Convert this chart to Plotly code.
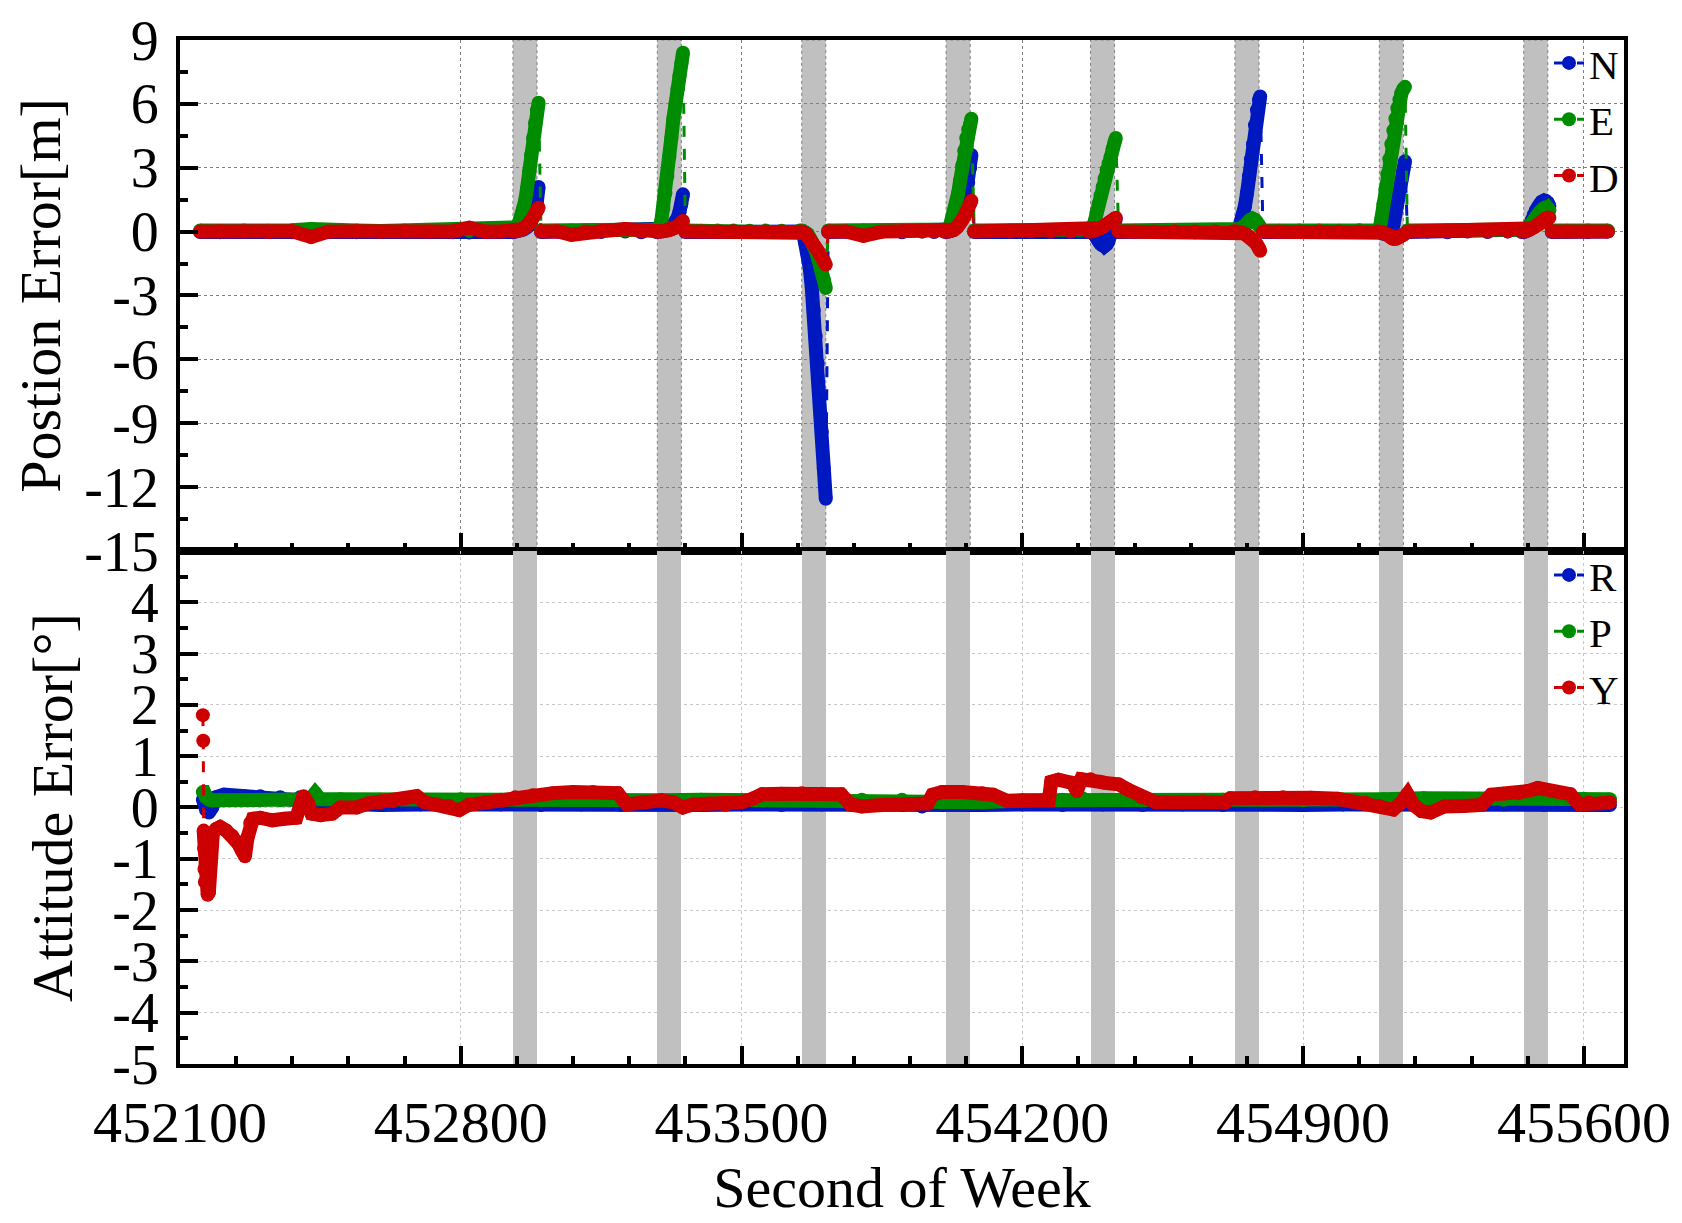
import plotly.graph_objects as go

FONT = "Liberation Serif"
BLUE, GREEN, RED = "#0018BF", "#008C00", "#CC0000"
BAND_GRAY = "#C0C0C0"

# ---------------- axes / outages ----------------
x_range = [452100, 455700]
x_tick0, x_dtick, x_minor = 452100, 700, 140
outage_start = [452930, 453290, 453650, 454010, 454370, 454730, 455090, 455450]
outage_len = 60

top_range = [-15, 9]
top_ticks = [-15, -12, -9, -6, -3, 0, 3, 6, 9]
top_minor = 1.5
bot_range = [-5, 5]
bot_ticks = [-5, -4, -3, -2, -1, 0, 1, 2, 3, 4]
bot_minor = 0.5

# ---------------- position error (N, E, D) ----------------
top_t = [
    452150, 452200, 452260, 452320, 452380, 452427, 452470, 452540, 452600, 452660, 452720, 452780, 452821, 452860, 452900,
    452930, 452935, 452940, 452945, 452950, 452955, 452960, 452965, 452970, 452975, 452980, 452985, 452990, 452994, 452997,
    453000, 453040, 453076, 453110, 453150, 453210, 453250, 453285,
    453290, 453295, 453300, 453305, 453310, 453315, 453320, 453325, 453330, 453335, 453340, 453345, 453350, 453354, 453357,
    453360, 453400, 453440, 453480, 453520, 453560, 453600, 453645,
    453650, 453655, 453660, 453665, 453670, 453675, 453680, 453685, 453690, 453695, 453700, 453705, 453710, 453713,
    453716, 453760, 453804, 453850, 453900, 453950, 453980, 454005,
    454010, 454015, 454020, 454025, 454030, 454035, 454040, 454045, 454050, 454055, 454060, 454065, 454070, 454073, 454076,
    454080, 454120, 454170, 454220, 454270, 454320, 454365,
    454370, 454375, 454380, 454385, 454390, 454395, 454400, 454405, 454410, 454415, 454420, 454425, 454430, 454433, 454436,
    454440, 454480, 454530, 454580, 454630, 454680, 454725,
    454730, 454735, 454740, 454745, 454750, 454755, 454760, 454765, 454770, 454775, 454780, 454785, 454790, 454793, 454796,
    454800, 454840, 454890, 454940, 454990, 455040, 455085,
    455090, 455095, 455100, 455105, 455110, 455115, 455120, 455125, 455130, 455135, 455140, 455145, 455150, 455154, 455157,
    455160, 455210, 455260, 455310, 455360, 455410, 455445,
    455450, 455455, 455460, 455465, 455470, 455475, 455480, 455485, 455490, 455495, 455500, 455505, 455510, 455514, 455516,
    455520, 455560, 455610, 455660,
]
top_N = [
    -0.02, -0.03, -0.02, 0.0, -0.03, -0.02, 0.0, -0.03, 0.0, -0.02, 0.0, -0.03, -0.04, 0.0, -0.02,
    -0.02, 0.0, 0.02, 0.04, 0.06, 0.09, 0.13, 0.2, 0.3, 0.45, 0.68, 1.0, 1.45, 2.1, None,
    -0.02, 0.0, -0.03, 0.0, -0.02, 0.0, -0.03, 0.0,
    -0.02, 0.0, 0.02, 0.04, 0.06, 0.1, 0.15, 0.22, 0.32, 0.45, 0.62, 0.9, 1.3, 1.75, None,
    -0.02, 0.0, -0.02, 0.0, -0.02, 0.0, -0.02, 0.0,
    0.0, -0.2, -0.6, -1.1, -1.7, -2.6, -3.7, -4.9, -6.2, -7.7, -9.4, -11.1, -12.55, None,
    -0.02, 0.0, -0.02, 0.0, -0.03, 0.0, -0.02, 0.0,
    -0.02, 0.0, 0.02, 0.05, 0.1, 0.18, 0.3, 0.5, 0.8, 1.2, 1.7, 2.3, 3.0, 3.6, None,
    -0.02, 0.0, -0.02, 0.0, -0.02, 0.0, -0.02,
    -0.02, -0.05, -0.15, -0.3, -0.45, -0.58, -0.65, -0.68, -0.6, -0.45, -0.2, 0.1, 0.4, 0.6, None,
    -0.02, 0.0, -0.02, 0.0, -0.03, 0.0, -0.02,
    -0.02, 0.05, 0.15, 0.4, 0.75, 1.2, 1.8, 2.6, 3.4, 4.1, 5.0, 5.7, 6.2, 6.35, None,
    -0.02, 0.0, -0.02, 0.0, -0.02, 0.0, -0.02,
    -0.02, -0.05, -0.1, -0.12, -0.1, -0.05, 0.05, 0.3, 0.8, 1.4, 1.9, 2.4, 2.9, 3.3, None,
    -0.02, 0.0, -0.03, 0.0, -0.02, 0.0, -0.02,
    -0.02, 0.0, 0.1, 0.3, 0.55, 0.8, 1.0, 1.15, 1.3, 1.4, 1.45, 1.45, 1.35, 1.2, None,
    -0.02, 0.0, -0.02, 0.0,
]
top_E = [
    0.05, 0.03, 0.05, 0.04, 0.06, 0.12, 0.04, 0.05, 0.03, 0.05, 0.04, 0.05, 0.04, 0.05, 0.04,
    0.05, 0.08, 0.2, 0.4, 0.67, 1.0, 1.4, 2.0, 2.8, 3.6, 4.4, 5.1, 5.7, 6.05, None,
    0.05, 0.04, 0.05, 0.06, 0.04, 0.05, 0.04, 0.05,
    0.05, 0.1, 0.5, 1.1, 1.8, 2.6, 3.5, 4.4, 5.3, 6.0, 6.7, 7.3, 7.9, 8.4, None,
    0.05, 0.04, 0.05, 0.05, 0.04, 0.05, 0.04, 0.05,
    0.05, 0.0, -0.05, -0.12, -0.27, -0.45, -0.65, -0.9, -1.2, -1.5, -1.85, -2.25, -2.65, None,
    0.05, 0.04, 0.05, 0.05, 0.04, 0.05, 0.05, 0.04,
    0.05, 0.1, 0.3, 0.6, 0.9, 1.25, 1.8, 2.4, 3.1, 3.8, 4.4, 4.8, 5.05, 5.3, None,
    0.05, 0.04, 0.05, 0.05, 0.04, 0.05, 0.05,
    0.05, 0.1, 0.45, 0.9, 1.3, 1.7, 2.1, 2.5, 2.9, 3.2, 3.5, 3.9, 4.2, 4.4, None,
    0.05, 0.04, 0.05, 0.06, 0.04, 0.05, 0.05,
    0.05, 0.06, 0.08, 0.12, 0.2, 0.3, 0.4, 0.5, 0.58, 0.6, 0.55, 0.45, 0.3, 0.2, None,
    0.05, 0.04, 0.05, 0.05, 0.04, 0.06, 0.05,
    0.05, 0.6, 1.3, 2.0, 2.7, 3.4, 4.1, 4.75, 5.3, 5.8, 6.2, 6.5, 6.7, 6.8, None,
    0.05, 0.04, 0.05, 0.05, 0.04, 0.05, 0.05,
    0.05, 0.1, 0.2, 0.3, 0.42, 0.55, 0.68, 0.8, 0.92, 1.02, 1.1, 1.14, 1.1, 1.0, None,
    0.05, 0.04, 0.05, 0.05,
]
top_D = [
    0.0, 0.02, 0.0, -0.02, 0.02, -0.25, 0.0, 0.02, -0.01, 0.02, 0.0, 0.01, 0.18, 0.0, 0.01,
    0.0, 0.01, 0.03, 0.05, 0.08, 0.12, 0.18, 0.26, 0.36, 0.5, 0.65, 0.82, 1.0, 1.12, None,
    0.0, 0.02, -0.15, 0.0, 0.02, 0.12, 0.0, 0.0,
    0.0, 0.0, 0.01, 0.02, 0.03, 0.05, 0.07, 0.1, 0.14, 0.18, 0.24, 0.32, 0.4, 0.5, None,
    0.0, 0.01, 0.0, 0.02, 0.0, 0.01, 0.0, 0.0,
    0.0, -0.04, -0.1, -0.2, -0.35, -0.48, -0.62, -0.76, -0.9, -1.05, -1.2, -1.35, -1.55, None,
    0.0, 0.01, -0.2, 0.0, 0.02, 0.0, 0.01, 0.0,
    0.0, 0.0, 0.02, 0.05, 0.1, 0.17, 0.26, 0.38, 0.52, 0.7, 0.9, 1.1, 1.32, 1.45, None,
    0.0, 0.01, 0.0, 0.02, 0.0, 0.01, 0.0,
    0.0, 0.02, 0.05, 0.08, 0.12, 0.17, 0.22, 0.28, 0.34, 0.4, 0.46, 0.53, 0.6, 0.65, None,
    0.0, 0.01, 0.0, 0.02, 0.0, 0.01, 0.0,
    0.0, 0.0, -0.02, -0.05, -0.08, -0.12, -0.17, -0.23, -0.3, -0.4, -0.5, -0.62, -0.78, -0.9, None,
    0.0, 0.01, 0.0, 0.02, 0.0, 0.01, 0.0,
    0.0, -0.02, -0.05, -0.1, -0.15, -0.22, -0.3, -0.35, -0.35, -0.3, -0.25, -0.2, -0.15, -0.1, None,
    0.0, 0.01, 0.0, 0.02, 0.0, 0.01, 0.0,
    0.0, 0.02, 0.05, 0.1, 0.15, 0.2, 0.27, 0.33, 0.4, 0.48, 0.55, 0.62, 0.66, 0.65, None,
    0.0, 0.01, 0.0, 0.0,
]

# ---------------- attitude error (R, P, Y) ----------------
att_R_t = [452157, 452160, 452165, 452172, 452180, 452190, 452210, 452260, 452300, 452350,
           452400, 452430, 452470, 452520, 452600, 452700, 452800, 452900, 453000, 453100,
           453200, 453300, 453400, 453500, 453600, 453700, 453800, 453900, 453950, 454000,
           454100, 454200, 454300, 454400, 454500, 454600, 454700, 454800, 454900, 455000,
           455100, 455200, 455300, 455400, 455500, 455600, 455665]
att_R = [0.15, 0.05, -0.05, -0.1, 0.0, 0.2, 0.25, 0.22, 0.22, 0.2,
         0.2, 0.12, 0.08, 0.06, 0.05, 0.06, 0.05, 0.06, 0.05, 0.06,
         0.05, 0.06, 0.05, 0.06, 0.05, 0.06, 0.05, 0.05, 0.02, 0.05,
         0.05, 0.06, 0.05, 0.06, 0.05, 0.06, 0.05, 0.06, 0.05, 0.06,
         0.05, 0.06, 0.05, 0.06, 0.05, 0.06, 0.05]

att_P_t = [452157, 452160, 452165, 452172, 452180, 452200, 452250, 452300, 452350, 452400,
           452425, 452437, 452450, 452500, 452600, 452700, 452800, 452900, 453000, 453100,
           453200, 453300, 453400, 453500, 453600, 453700, 453800, 453900, 454000, 454100,
           454200, 454300, 454350, 454400, 454450, 454500, 454600, 454700, 454800, 454900,
           455000, 455100, 455200, 455300, 455400, 455500, 455600, 455665]
att_P = [0.3, 0.3, 0.2, 0.15, 0.14, 0.14, 0.14, 0.14, 0.14, 0.14,
         0.16, 0.28, 0.16, 0.16, 0.15, 0.15, 0.16, 0.15, 0.14, 0.15,
         0.15, 0.14, 0.15, 0.14, 0.15, 0.14, 0.15, 0.15, 0.1, 0.1,
         0.14, 0.15, 0.18, 0.15, 0.14, 0.15, 0.14, 0.15, 0.15, 0.14,
         0.15, 0.16, 0.18, 0.17, 0.15, 0.18, 0.17, 0.16]

att_Y_t = [452157, 452157.5, 452158, 452158.5, 452159, 452160, 452161, 452162, 452164, 452166,
           452169, 452172, 452175, 452178, 452182, 452190, 452200, 452215, 452230, 452245,
           452255, 452262, 452268, 452275, 452282, 452300, 452330, 452360, 452390, 452400,
           452408, 452418, 452428, 452450, 452480, 452500, 452540, 452570, 452600, 452630,
           452660, 452690, 452710, 452740, 452770, 452796, 452820, 452860, 452900, 452936,
           452980, 453030, 453080, 453130, 453191, 453214, 453250, 453300, 453330, 453354,
           453380, 453420, 453460, 453500, 453530, 453551, 453600, 453650, 453700, 453748,
           453771, 453800, 453850, 453900, 453964, 453976, 454000, 454050, 454100, 454127,
           454162, 454200, 454266, 454272, 454290, 454324, 454336, 454347, 454370, 454394,
           454405, 454440, 454463, 454498, 454533, 454600, 454650, 454707, 454719, 454780,
           454850, 454920, 454986, 455020, 455055, 455090, 455125, 455145, 455160, 455175,
           455195, 455218, 455252, 455300, 455345, 455369, 455400, 455438, 455460, 455485,
           455520, 455566, 455589, 455612, 455640, 455665]
att_Y = [1.8, None, 1.3, None, -0.45, -0.8, -1.2, -1.45, -1.1, -1.45,
         -1.7, -1.65, -1.2, -0.7, -0.5, -0.42, -0.38, -0.45, -0.55, -0.7,
         -0.85, -0.95, -0.6, -0.3, -0.22, -0.2, -0.25, -0.22, -0.2, 0.05,
         0.22, 0.1, -0.12, -0.15, -0.12, 0.0, 0.0, 0.08, 0.1, 0.12,
         0.18, 0.22, 0.1, 0.06, 0.03, -0.05, 0.05, 0.1, 0.13, 0.2,
         0.24, 0.28, 0.3, 0.3, 0.28, 0.06, 0.1, 0.14, 0.1, 0.0,
         0.06, 0.08, 0.05, 0.1, 0.18, 0.26, 0.27, 0.28, 0.27, 0.26,
         0.06, 0.02, 0.05, 0.06, 0.08, 0.25, 0.3, 0.3, 0.28, 0.25,
         0.13, 0.13, 0.14, 0.5, 0.54, 0.48, 0.32, 0.55, 0.55, 0.5,
         0.48, 0.45, 0.35, 0.2, 0.1, 0.1, 0.12, 0.1, 0.18, 0.2,
         0.2, 0.19, 0.17, 0.12, 0.09, 0.03, -0.04, 0.1, 0.26, 0.05,
         -0.07, -0.1, 0.02, 0.03, 0.05, 0.25, 0.27, 0.28, 0.32, 0.38,
         0.32, 0.26, 0.06, 0.1, 0.08, 0.1]

assert len(top_t) == len(top_N) == len(top_E) == len(top_D)
assert len(att_R_t) == len(att_R) and len(att_P_t) == len(att_P) and len(att_Y_t) == len(att_Y)

# ---------------- figure ----------------
fig = go.Figure()

# outage bands in the attitude panel (drawn as bars so they sit above the grid)
fig.add_trace(go.Bar(x=[s + outage_len / 2 for s in outage_start],
                     y=[bot_range[1] - bot_range[0]] * len(outage_start),
                     base=bot_range[0], width=outage_len,
                     marker=dict(color=BAND_GRAY, line=dict(width=0)),
                     showlegend=False, hoverinfo="skip", xaxis="x2", yaxis="y2"))


def add_series(t, v, color, name, xa, ya, legend):
    # dense-sample band (continuous thick trace)
    fig.add_trace(go.Scatter(x=t, y=v, mode="lines", connectgaps=False,
                             line=dict(color=color, width=14),
                             showlegend=False, hoverinfo="skip",
                             xaxis=xa, yaxis=ya))
    # dashed line + markers (legend entry)
    fig.add_trace(go.Scatter(x=t, y=v, mode="lines+markers", name=name, connectgaps=True,
                             line=dict(color=color, width=3, dash="11px,12px"),
                             marker=dict(color=color, size=14),
                             xaxis=xa, yaxis=ya, legend=legend))


add_series(top_t, top_N, BLUE, "N", "x", "y", "legend")
add_series(top_t, top_E, GREEN, "E", "x", "y", "legend")
add_series(top_t, top_D, RED, "D", "x", "y", "legend")
add_series(att_R_t, att_R, BLUE, "R", "x2", "y2", "legend2")
add_series(att_P_t, att_P, GREEN, "P", "x2", "y2", "legend2")
add_series(att_Y_t, att_Y, RED, "Y", "x2", "y2", "legend2")

shapes = []
for s in outage_start:
    shapes.append(dict(type="rect", xref="x", yref="y domain", x0=s, x1=s + outage_len, y0=0, y1=1,
                       fillcolor=BAND_GRAY, line=dict(color="#808080", width=1, dash="3px,3px"),
                       layer="below"))

tickfont_x = dict(family=FONT, size=58, color="black")
tickfont_y = dict(family=FONT, size=56, color="black")
titlefont = dict(family=FONT, size=58, color="black")


def xaxis_cfg(showlabels, gridcolor, anchor):
    return dict(range=x_range, tick0=x_tick0, dtick=x_dtick, anchor=anchor, tickformat="d",
                ticks="inside", ticklen=18, tickwidth=3.5, tickcolor="black",
                minor=dict(ticks="inside", ticklen=8, tickwidth=3.5, tickcolor="black",
                           tick0=x_tick0, dtick=x_minor, showgrid=False),
                showline=True, linewidth=4, linecolor="black", mirror=True,
                showgrid=True, gridcolor=gridcolor, griddash="3px,3px", gridwidth=1.3,
                zeroline=False, showticklabels=showlabels, tickfont=tickfont_x,
                ticklabelstandoff=4, automargin=False)


def yaxis_cfg(domain, rng, ticks, minor_dtick, gridcolor, title):
    return dict(domain=domain, range=rng, tickmode="array", tickvals=ticks,
                ticktext=[str(v) for v in ticks],
                ticks="inside", ticklen=18, tickwidth=3.5, tickcolor="black",
                minor=dict(ticks="inside", ticklen=8, tickwidth=3.5, tickcolor="black",
                           tick0=rng[0], dtick=minor_dtick, showgrid=False),
                showline=True, linewidth=4, linecolor="black", mirror=True,
                showgrid=True, gridcolor=gridcolor, griddash="3px,3px", gridwidth=1.3,
                zeroline=False, tickfont=tickfont_y, ticklabelstandoff=6,
                automargin=False,
                title=dict(text=title, font=titlefont, standoff=22))


fig.update_layout(
    width=1674, height=1215,
    paper_bgcolor="white", plot_bgcolor="white",
    margin=dict(l=172, r=58, t=32, b=159),
    font=dict(family=FONT, color="black"),
    shapes=shapes,
    showlegend=True,
    bargap=0,
    xaxis=xaxis_cfg(False, "#808080", "y"),
    xaxis2=dict(**xaxis_cfg(True, "#C8C8C8", "y2"), matches="x",
                title=dict(text="Second of Week", font=titlefont, standoff=14)),
    yaxis=yaxis_cfg([0.501, 1], top_range, top_ticks, top_minor, "#808080", "Postion Error[m]"),
    yaxis2=yaxis_cfg([0, 0.501], bot_range, bot_ticks, bot_minor, "#C8C8C8", "Attitude Error[°]"),
    legend=dict(x=1, xanchor="right", y=1.01, yanchor="top", bgcolor="rgba(0,0,0,0)",
                font=dict(family=FONT, size=41, color="black"), tracegroupgap=0),
    legend2=dict(x=1, xanchor="right", y=0.51, yanchor="top", bgcolor="rgba(0,0,0,0)",
                 font=dict(family=FONT, size=41, color="black"), tracegroupgap=0),
)

fig.write_html("out.html")
